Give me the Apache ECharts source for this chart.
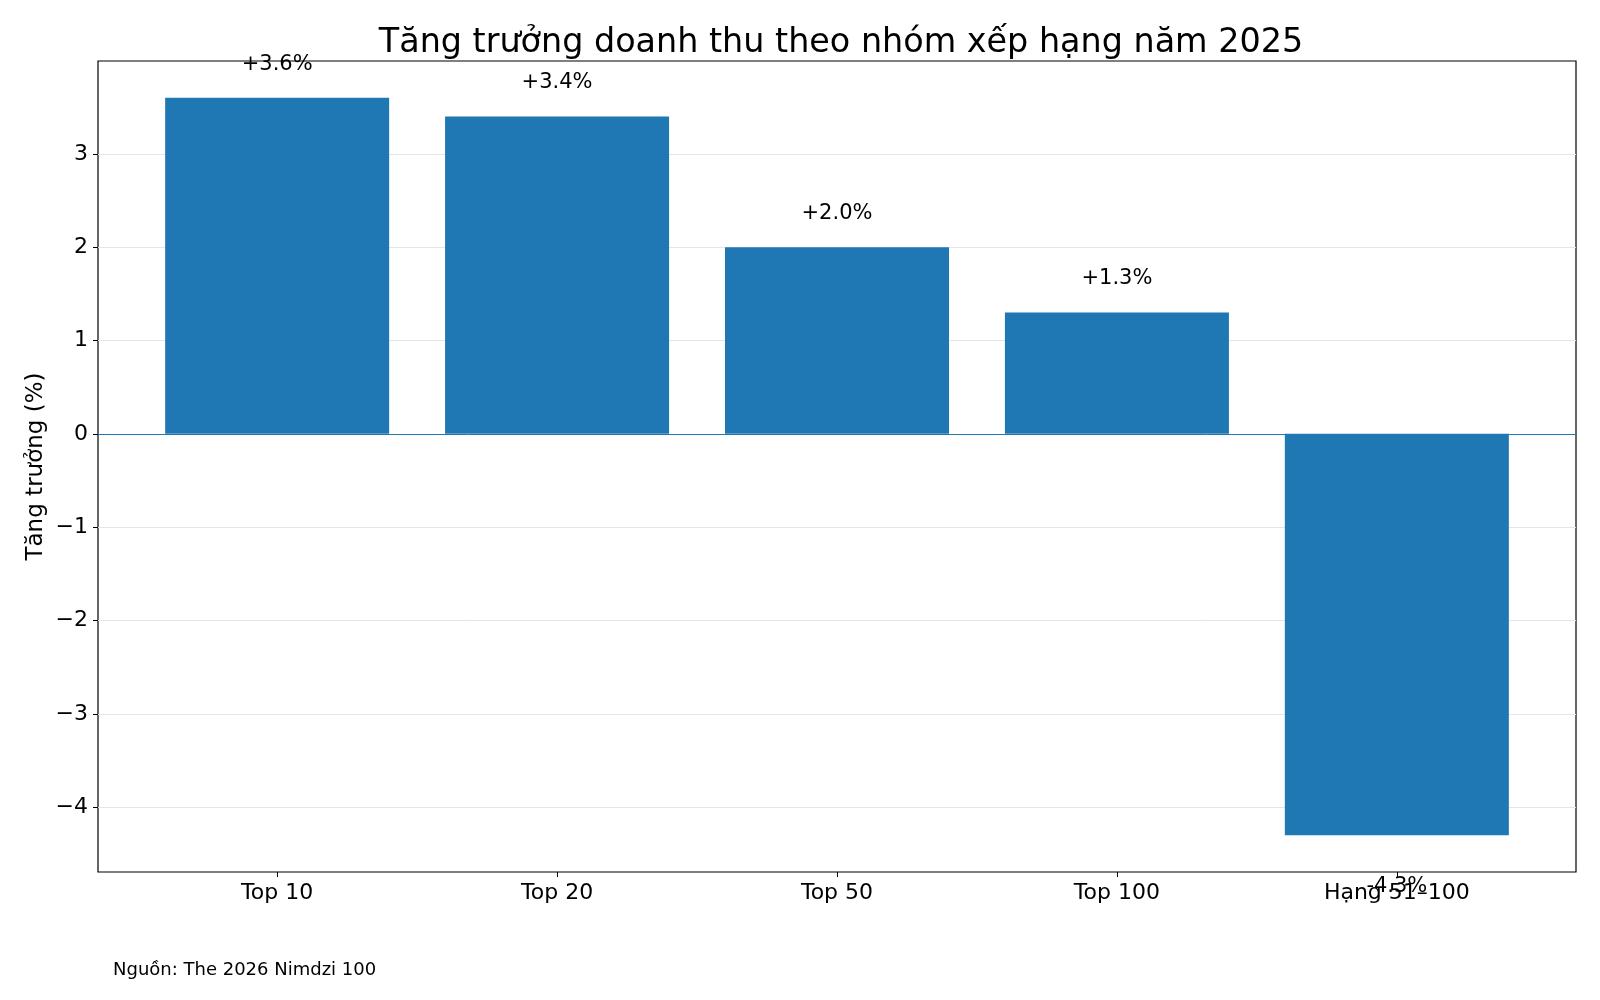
<!DOCTYPE html>
<html>
<head>
<meta charset="utf-8">
<script src="https://cdn.jsdelivr.net/npm/echarts@6/dist/echarts.min.js"></script>
<style>
  html, body { margin: 0; padding: 0; background: #fff; }
  #main { width: 1600px; height: 1000px; }
</style>
</head>
<body>
<div id="main"></div>
<script>
// dữ liệu
var categories = ['Top 10', 'Top 20', 'Top 50', 'Top 100', 'Hạng 51–100'];
var growth = [3.6, 3.4, 2.0, 1.3, -4.3];
var yTicks = [-4, -3, -2, -1, 0, 1, 2, 3];
var xTicks = [0, 1, 2, 3, 4];

var FONT = 'DejaVu Sans';
var barColor = '#1f77b4';

var myChart = echarts.init(document.getElementById('main'));

var barData = growth.map(function (v, i) {
    return {
        value: [i, v],
        label: v < 0 ? { position: 'bottom', distance: 41 } : { position: 'top', distance: 23 }
    };
});

var option = {
    animation: false,
    backgroundColor: '#fff',
    title: {
        text: 'Tăng trưởng doanh thu theo nhóm xếp hạng năm 2025',
        left: 836, top: 22, textAlign: 'center',
        textStyle: { fontFamily: FONT, fontSize: 33.4, fontWeight: 'normal', color: '#000' }
    },
    grid: {
        left: 98, right: 24, top: 61, bottom: 128,
        show: true, borderColor: '#000', borderWidth: 1.2, backgroundColor: 'transparent'
    },
    xAxis: {
        type: 'value',
        min: -0.64, max: 4.64,
        axisLine: { show: false, onZero: false },
        splitLine: { show: false },
        axisTick: { show: true, customValues: xTicks, length: 5, lineStyle: { color: '#000' } },
        axisLabel: {
            customValues: xTicks, margin: 10,
            fontFamily: FONT, fontSize: 22, color: '#000',
            formatter: function (v) { return categories[Math.round(v)]; }
        }
    },
    yAxis: {
        type: 'value',
        min: -4.695, max: 3.995,
        name: 'Tăng trưởng (%)',
        nameLocation: 'middle', nameGap: 50, nameMoveOverlap: false,
        nameTextStyle: { fontFamily: FONT, fontSize: 23, color: '#000' },
        axisLine: { show: false, onZero: false },
        axisTick: { show: true, customValues: yTicks, length: 5, lineStyle: { color: '#000' } },
        axisLabel: {
            customValues: yTicks, margin: 10,
            fontFamily: FONT, fontSize: 22, color: '#000',
            formatter: function (v) { return String(v).replace('-', '\u2212'); }
        },
        splitLine: { show: true, lineStyle: { color: '#e5e5e5', width: 1 } }
    },
    series: [{
        type: 'bar',
        data: barData,
        barWidth: 224,
        itemStyle: { color: barColor },
        label: {
            show: true,
            fontFamily: FONT, fontSize: 21, color: '#000',
            formatter: function (p) {
                var v = p.value[1];
                return (v > 0 ? '+' : '') + v.toFixed(1) + '%';
            }
        },
        markLine: {
            silent: true, symbol: 'none',
            label: { show: false },
            lineStyle: { color: barColor, width: 1, type: 'solid' },
            data: [{ yAxis: 0 }]
        }
    }],
    graphic: [{
        type: 'text',
        left: 113, top: 961,
        style: { text: 'Nguồn: The 2026 Nimdzi 100', font: '18px "DejaVu Sans"', fill: '#000' }
    }]
};

myChart.setOption(option, true);
</script>
</body>
</html>
